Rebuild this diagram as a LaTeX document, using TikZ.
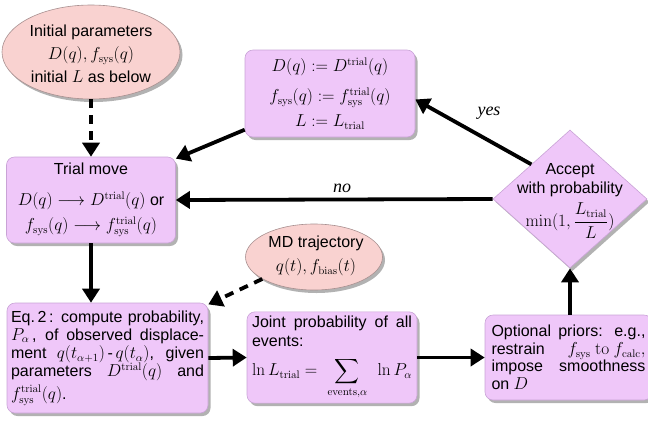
\documentclass[tikz,border=0pt]{standalone}
\usepackage{amsmath}
\usepackage[no-math]{fontspec}
\setmainfont{Liberation Sans}
\newfontfamily\yesnofont{Liberation Serif}
\usetikzlibrary{arrows.meta,shapes.geometric,shadows,calc}
\definecolor{boxfill}{HTML}{EFC7F9}
\definecolor{boxline}{HTML}{C9A3D6}
\definecolor{ellfill}{HTML}{F9D2D0}
\definecolor{ellline}{HTML}{A89090}
\newcommand{\jline}[2]{\makebox[#1][s]{#2}}
\begin{document}
\begin{tikzpicture}[x=1pt,y=-1pt,
  every node/.style={font=\fontsize{16}{19}\selectfont},
  shadowed/.style={drop shadow={shadow xshift=2.5pt,shadow yshift=-3pt,opacity=0.3,fill=black}},
  box/.style={rectangle,rounded corners=8pt,fill=boxfill,draw=boxline,line width=0.6pt,shadowed,inner sep=4pt},
  oval/.style={ellipse,fill=ellfill,draw=ellline,line width=0.6pt,shadowed,inner sep=0pt},
  dia/.style={diamond,fill=boxfill,draw=boxline,line width=0.6pt,shadowed,inner sep=0pt},
  flow/.style={line width=3.8pt,-{Triangle[width=17pt,length=14pt]}},
  dflow/.style={flow,dash pattern=on 9pt off 7pt},
  tag/.style={font=\yesnofont\itshape\fontsize{18}{20}\selectfont}
]
\useasboundingbox (0,0) rectangle (648,424);

% ellipses
\node[oval,minimum width=178pt,minimum height=94pt] (init) at (91,52) {};
\node[align=center,font=\fontsize{16}{23}\selectfont] (initT) at (91,54)
  {Initial parameters\\ $D(q), f_{\mathrm{sys}}(q)$\\ initial $L$ as below};

\node[oval,minimum width=137pt,minimum height=66pt] (md) at (314,257) {};
\node[align=center,font=\fontsize{16}{24}\selectfont] (mdT) at (316,256)
  {MD trajectory\\ $q(t), f_{\mathrm{bias}}(t)$};

% boxes
\node[box,minimum width=170pt,minimum height=87pt,align=center,font=\fontsize{16}{25}\selectfont] (upd) at (330,93.5)
  {$D(q) := D^{\mathrm{trial}}(q)$\\[5pt] $f_{\mathrm{sys}}(q) := f^{\mathrm{trial}}_{\mathrm{sys}}(q)$\\ $L := L_{\mathrm{trial}}$};

\node[box,minimum width=169pt,minimum height=86pt,align=center,font=\fontsize{16}{25}\selectfont] (trial) at (91,200)
  {Trial move\\[6pt] $D(q) \longrightarrow D^{\mathrm{trial}}(q)$ or\\ $f_{\mathrm{sys}}(q) \longrightarrow f^{\mathrm{trial}}_{\mathrm{sys}}(q)$};

\node[box,minimum width=201pt,minimum height=110pt,align=left,font=\fontsize{16}{18.3}\selectfont] (eq2) at (107.5,358)
  {\jline{193pt}{Eq.\,2\,: compute probability,}\\
   \jline{193pt}{$P_\alpha$\,, of observed displace-}\\
   \jline{193pt}{ment $q(t_{\alpha+1})$\,-\,$q(t_\alpha)$, given}\\
   \jline{193pt}{parameters $D^{\mathrm{trial}}(q)$ and}\\[4pt]
   $f^{\mathrm{trial}}_{\mathrm{sys}}(q)$.};

\node[box,minimum width=170pt,minimum height=85pt,align=left,font=\fontsize{16}{19}\selectfont] (joint) at (332,357.5)
  {\jline{160pt}{Joint probability of all}\\
   events:\\[10pt]
   \makebox[160pt][s]{$\ln L_{\mathrm{trial}} =$\hfill$\displaystyle\sum_{\mathrm{events},\alpha}$\hfill$\ln P_\alpha$}};

\node[box,minimum width=167pt,minimum height=85pt,align=left,font=\fontsize{16}{17.5}\selectfont] (opt) at (568.5,357.5)
  {\jline{154pt}{Optional priors: e.g.,}\\
   \makebox[154pt][s]{restrain\hfill$f_{\mathrm{sys}}\ \mathrm{to}\ f_{\mathrm{calc}},$}\\
   \jline{154pt}{impose smoothness}\\
   on $D$};

% decision
\node[dia,minimum width=154pt,minimum height=138pt] (acc) at (570,199) {};
\node[align=center,font=\fontsize{16}{19}\selectfont] (accT) at (570,201)
  {Accept\\ with probability\\[5pt] $\min(1, \dfrac{L_{\mathrm{trial}}}{L})$};

% connectors
\draw[dflow] (init.south) -- (trial.north);
\draw[flow] (upd.203) -- (trial.26);
\draw[flow] (acc.north west) -- (upd.-4);
\node[tag] (yes) at (489,113) {yes};
\draw[flow] (acc.west) -- (trial.east);
\node[tag] (no) at (342,188) {no};
\draw[flow] (trial.south) -- (eq2.north -| trial.south);
\draw[dflow] (md.203) -- (eq2.28);
\draw[flow] (eq2.east) -- (joint.west);
\draw[flow] (joint.east) -- (opt.west);
\draw[flow] (opt.north -| acc.south) -- (acc.south);
\end{tikzpicture}
\end{document}
